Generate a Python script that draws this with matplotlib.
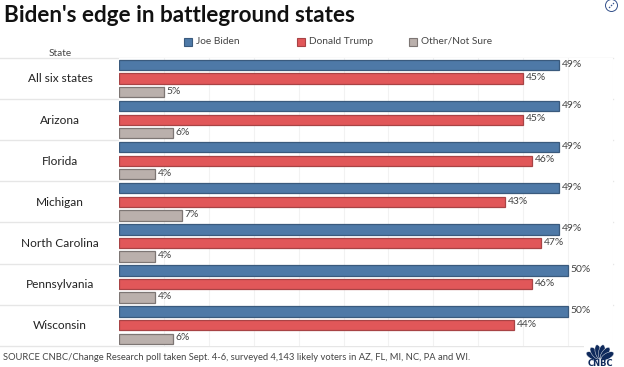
import numpy as np
import matplotlib
matplotlib.use("Agg")
import matplotlib.pyplot as plt
from matplotlib.patches import Ellipse, Circle

plt.rcParams['font.family'] = ['Lato', 'DejaVu Sans']

states = ["All six states", "Arizona", "Florida", "Michigan", "North Carolina", "Pennsylvania", "Wisconsin"]
biden = [49, 49, 49, 49, 49, 50, 50]
trump = [45, 45, 46, 43, 47, 46, 44]
other = [5, 6, 4, 7, 4, 4, 6]

W, H = 624, 367
pitch = 41.1
fig = plt.figure(figsize=(W / 100, H / 100), dpi=100)

# plot area in pixels: x 119-613, y 58-346
ax = fig.add_axes([119 / W, 1 - 345.7 / H, 494 / W, 287.7 / H])
ax.set_xlim(0, 55)
ax.set_ylim(len(states) - 0.5, -0.5)

y = np.arange(len(states))
off = 0.33
h = 0.25
series = [(biden, -off, "#4e79a7", "#3a5a7d"), (trump, 0, "#e15759", "#a84345"), (other, off, "#bab0ac", "#7d7674")]
for vals, d, col, edge in series:
    ax.barh(y + d, vals, height=h, color=col, edgecolor=edge, linewidth=0.9, zorder=3)
    for yy, v in zip(y, vals):
        ax.text(v + 0.3, yy + d - 0.02, f"{v}%", va="center", ha="left", fontsize=7.5, color="#444444")

ax.set_xticks([5, 10, 15, 20, 25, 30, 35, 40, 45, 50, 55])
ax.grid(axis="x", color="#f2f2f2", linewidth=0.8, zorder=0)
ax.tick_params(left=False, bottom=False, labelleft=False, labelbottom=False)
for s in ax.spines.values():
    s.set_visible(False)

# row separators run out to the left edge through the label column
for i in range(len(states) + 1):
    yf = 1 - (58 + i * pitch) / H
    fig.add_artist(plt.Line2D([0, 613 / W], [yf, yf], color="#e6e6e6", linewidth=1.0, zorder=0))

for i, st in enumerate(states):
    fig.text(60 / W, 1 - (79 + i * pitch) / H, st, ha="center", va="center", fontsize=8.6, color="#222222")

fig.text(60 / W, 1 - 53 / H, "State", ha="center", va="center", fontsize=7.2, color="#444444")
fig.text(4 / W, 1 - 16 / H, "Biden's edge in battleground states", ha="left", va="center",
         fontsize=16.2, fontweight="bold", color="#111111")

# legend
leg = [(184, "Joe Biden", "#4e79a7", "#3a5a7d"), (297, "Donald Trump", "#e15759", "#a84345"), (409, "Other/Not Sure", "#bab0ac", "#7d7674")]
for px, name, col, edge in leg:
    fig.patches.append(plt.Rectangle((px / W, 1 - 45.5 / H), 8 / W, 8 / H, transform=fig.transFigure,
                                     facecolor=col, edgecolor=edge, linewidth=0.8))
    fig.text((px + 12) / W, 1 - 41.5 / H, name, ha="left", va="center", fontsize=7.3, color="#444444")

fig.text(3 / W, 1 - 358 / H, "SOURCE CNBC/Change Research poll taken Sept. 4-6, surveyed 4,143 likely voters in AZ, FL, MI, NC, PA and WI.",
         ha="left", va="center", fontsize=6.75, color="#444444")

# overlay in pixel coordinates for the logo and the expand icon
ov = fig.add_axes([0, 0, 1, 1])
ov.set_xlim(0, W)
ov.set_ylim(H, 0)
ov.axis("off")
ov.patch.set_alpha(0)
ov.add_patch(plt.Rectangle((584, 344), 40, 23, facecolor="white", edgecolor="none"))
cx, cy = 600, 360
for a in [-62, -37, -12, 12, 37, 62]:
    t = np.radians(a)
    ex = cx + 8.5 * np.sin(t)
    ey = cy - 8.5 * np.cos(t)
    ov.add_patch(Ellipse((ex, ey), 6.2, 14, angle=a, facecolor="#0f2a5c", edgecolor="white", linewidth=0.3))
ov.add_patch(plt.Rectangle((586, 360), 28, 7, facecolor="white", edgecolor="none"))
ov.text(600, 363.2, "CNBC", ha="center", va="center", fontsize=6, fontweight="bold", family="DejaVu Sans", color="#0f2a5c")
ov.add_patch(Circle((611.5, 5.5), 6, facecolor="white", edgecolor="#33508a", linewidth=0.7))
ov.plot([609, 614], [8, 3], color="#33508a", linewidth=0.8, linestyle=(0, (1.5, 1)))

fig.savefig("out.png", dpi=100)
